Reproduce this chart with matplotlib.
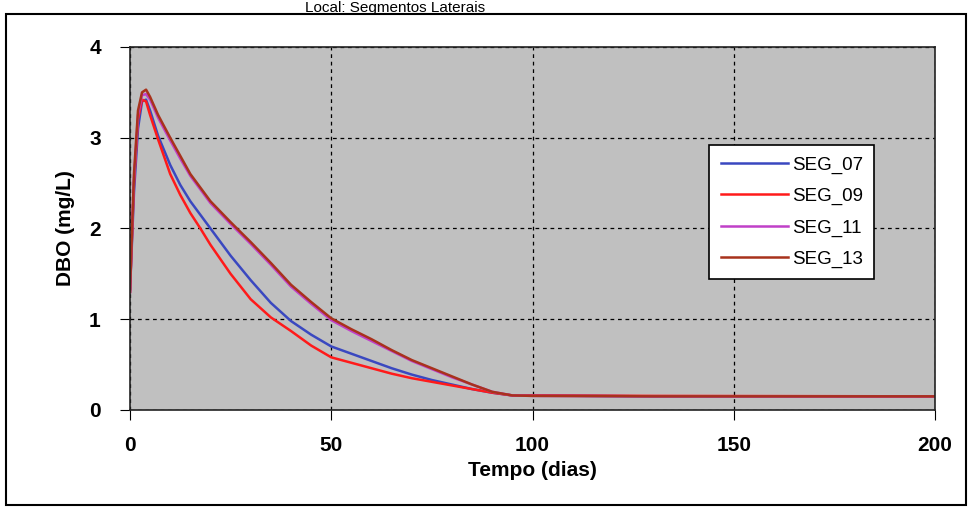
import numpy as np
import matplotlib
matplotlib.use("Agg")
import matplotlib.pyplot as plt
from matplotlib.patches import Rectangle

plt.rcParams['font.family'] = ['Liberation Sans', 'DejaVu Sans']

# tempo (dias) and DBO (mg/L)
tempo = [0, 1, 2, 3, 4, 5, 7, 10, 12.5, 15, 17.5, 20, 25, 30, 35, 40, 45, 50, 55, 60, 65, 70, 75, 80, 85, 90, 95, 100, 130, 200]
seg_07 = [1.3, 2.4, 3.1, 3.4, 3.42, 3.3, 3.02, 2.7, 2.48, 2.3, 2.15, 2.0, 1.7, 1.43, 1.18, 0.98, 0.83, 0.70, 0.62, 0.54, 0.46, 0.39, 0.33, 0.28, 0.23, 0.19, 0.16, 0.16, 0.15, 0.15]
seg_09 = [1.3, 2.5, 3.2, 3.42, 3.4, 3.25, 2.98, 2.6, 2.37, 2.17, 2.0, 1.82, 1.5, 1.22, 1.02, 0.87, 0.71, 0.58, 0.52, 0.46, 0.40, 0.35, 0.31, 0.27, 0.23, 0.19, 0.16, 0.16, 0.155, 0.15]
seg_11 = [1.3, 2.55, 3.25, 3.47, 3.48, 3.42, 3.22, 2.97, 2.77, 2.58, 2.43, 2.28, 2.05, 1.83, 1.6, 1.36, 1.17, 0.99, 0.87, 0.76, 0.65, 0.54, 0.45, 0.36, 0.28, 0.2, 0.16, 0.155, 0.15, 0.15]
seg_13 = [1.3, 2.6, 3.3, 3.5, 3.53, 3.45, 3.25, 3.0, 2.8, 2.6, 2.45, 2.3, 2.07, 1.85, 1.62, 1.38, 1.19, 1.01, 0.89, 0.78, 0.66, 0.55, 0.46, 0.37, 0.28, 0.2, 0.16, 0.155, 0.15, 0.15]

series = [('SEG_07', seg_07, '#3a48c0'),
          ('SEG_09', seg_09, '#ff1a1a'),
          ('SEG_11', seg_11, '#c040c8'),
          ('SEG_13', seg_13, '#a8321c')]

fig = plt.figure(figsize=(9.72, 5.08), dpi=100)
ax = fig.add_axes([0.1337, 0.193, 0.8283, 0.7145])
ax.set_facecolor('#c0c0c0')

for name, vals, col in series:
    ax.plot(tempo, vals, color=col, lw=1.8, label=name)

ax.set_xlim(0, 200)
ax.set_ylim(0, 4)
ax.set_xticks([0, 50, 100, 150, 200])
ax.set_yticks([0, 1, 2, 3, 4])
ax.grid(True, color='black', ls=(0, (3, 3)), lw=0.9)
ax.tick_params(axis='x', direction='out', length=7, pad=12, labelsize=15)
ax.tick_params(axis='y', direction='out', length=7, pad=14, labelsize=15)
for lab in ax.get_xticklabels() + ax.get_yticklabels():
    lab.set_fontweight('bold')
for s in ax.spines.values():
    s.set_color('#222222')
    s.set_linewidth(1.2)

ax.set_xlabel('Tempo (dias)', fontsize=15, fontweight='bold', labelpad=4)
ax.set_ylabel('DBO (mg/L)', fontsize=15, fontweight='bold', labelpad=10)

leg = ax.legend(loc='upper left', bbox_to_anchor=(0.708, 0.755), fontsize=13.5,
                frameon=True, fancybox=False, handlelength=3.6, handletextpad=0.2,
                borderpad=0.6, labelspacing=0.75)
leg.get_frame().set_edgecolor('black')
leg.get_frame().set_facecolor('white')
leg.get_frame().set_alpha(1)
leg.get_frame().set_linewidth(1.2)

fig.text(0.406, 0.999, 'Local: Segmentos Laterais', fontsize=11, ha='center', va='top')
fig.patches.append(Rectangle((0.006, 0.006), 0.988, 0.966, transform=fig.transFigure,
                             fill=False, edgecolor='black', lw=1.5))

fig.savefig('out.png', dpi=100)
